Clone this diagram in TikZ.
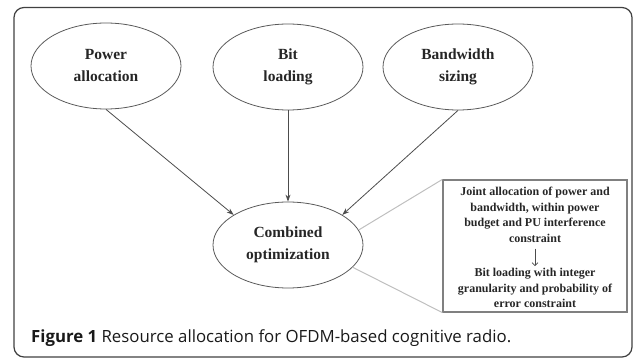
\documentclass[tikz,border=0pt]{standalone}
\usepackage{fontspec}
\setmainfont{Liberation Serif}
\newfontfamily\capfont{Open Sans}
\usetikzlibrary{arrows.meta,shapes.geometric}
\begin{document}
\begin{tikzpicture}[x=1pt,y=-1pt,
  ell/.style={ellipse, draw=black!65, line width=0.8pt, minimum width=150pt, minimum height=86pt, inner sep=0pt, font=\fontsize{15.5}{22}\selectfont\bfseries, align=center, text=black!85},
  arr/.style={draw=black!70, line width=0.8pt, -{Stealth[length=7pt,width=5pt]}},
  glink/.style={draw=black!25, line width=1pt},
  btext/.style={font=\fontsize{12}{15.5}\selectfont\bfseries, align=center, inner sep=0pt, text=black!85},
  bbox/.style={draw=black!50, line width=1.2pt, minimum width=184pt, minimum height=132pt, inner sep=0pt},
  frame/.style={rounded corners=10pt, line width=1.2pt, draw=black!75}]
\useasboundingbox (0,0) rectangle (633,358);
\draw[frame] (14,7.5) rectangle (632,357);
\node[ell] (pa) at (106,66) {Power\\allocation};
\node[ell] (bl) at (288,67) {Bit\\loading};
\node[ell] (bs) at (458,67) {Bandwidth\\sizing};
\node[ell] (co) at (288,245) {Combined\\optimization};
\node[bbox] (box) at (535,246) {};
\node[btext] (t1) at (535,215) {Joint allocation of power and\\bandwidth, within power\\budget and PU interference\\constraint};
\node[btext] (t2) at (535,288) {Bit loading with integer\\granularity and probability of\\error constraint};
\draw[draw=black!70, line width=0.6pt, -{Straight Barb[length=3pt]}, shorten <=6pt, shorten >=2pt] (t1.south) -- (t2.north);
\draw[arr] (pa.south) -- (co.151);
\draw[arr] (bl.south) -- (co.north);
\draw[arr] (bs.south) -- (co.29);
\draw[glink] (co.12) -- (box.north west);
\draw[glink] (co.-19) -- (box.south west);
\node[anchor=base west, font=\capfont\fontsize{16.8}{20}\selectfont, inner sep=0pt, text=black!90] (cap) at (31,343) {\textbf{Figure 1} Resource allocation for OFDM-based cognitive radio.};
\end{tikzpicture}
\end{document}
